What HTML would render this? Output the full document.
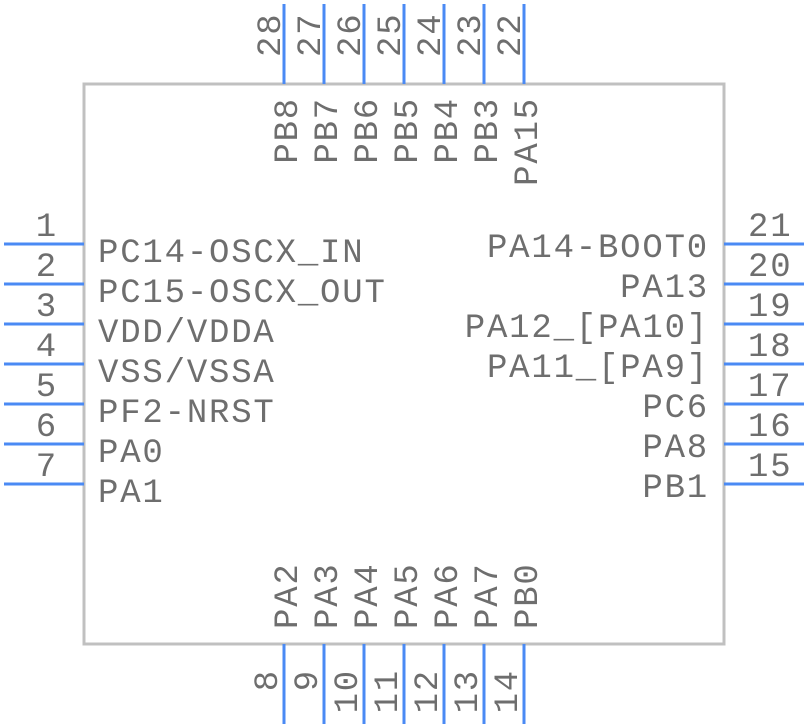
<!DOCTYPE html>
<html><head><meta charset="utf-8"><style>
html,body{margin:0;padding:0;background:#fff}
svg{display:block}
text{font-family:"Liberation Mono",monospace;font-size:34px;letter-spacing:1.8px;fill:#6e6e6e}
</style></head><body>
<svg width="808" height="728" viewBox="0 0 808 728" xmlns="http://www.w3.org/2000/svg">
<rect x="84" y="84" width="640" height="560" fill="none" stroke="#c0c0c0" stroke-width="3"/>
<g stroke="#4a8af4" stroke-width="3">
<line x1="4" y1="244" x2="84" y2="244"/><line x1="4" y1="284" x2="84" y2="284"/><line x1="4" y1="324" x2="84" y2="324"/><line x1="4" y1="364" x2="84" y2="364"/><line x1="4" y1="404" x2="84" y2="404"/><line x1="4" y1="444" x2="84" y2="444"/><line x1="4" y1="484" x2="84" y2="484"/>
<line x1="724" y1="244" x2="804" y2="244"/><line x1="724" y1="284" x2="804" y2="284"/><line x1="724" y1="324" x2="804" y2="324"/><line x1="724" y1="364" x2="804" y2="364"/><line x1="724" y1="404" x2="804" y2="404"/><line x1="724" y1="444" x2="804" y2="444"/><line x1="724" y1="484" x2="804" y2="484"/>
<line x1="284" y1="4" x2="284" y2="84"/><line x1="324" y1="4" x2="324" y2="84"/><line x1="364" y1="4" x2="364" y2="84"/><line x1="404" y1="4" x2="404" y2="84"/><line x1="444" y1="4" x2="444" y2="84"/><line x1="484" y1="4" x2="484" y2="84"/><line x1="524" y1="4" x2="524" y2="84"/>
<line x1="284" y1="644" x2="284" y2="724"/><line x1="324" y1="644" x2="324" y2="724"/><line x1="364" y1="644" x2="364" y2="724"/><line x1="404" y1="644" x2="404" y2="724"/><line x1="444" y1="644" x2="444" y2="724"/><line x1="484" y1="644" x2="484" y2="724"/><line x1="524" y1="644" x2="524" y2="724"/>
</g>
<g text-anchor="end">
<text x="58" y="236">1</text><text x="58" y="276">2</text><text x="58" y="316">3</text><text x="58" y="356">4</text><text x="58" y="396">5</text><text x="58" y="436">6</text><text x="58" y="476">7</text>
<text x="709" y="257">PA14-BOOT0</text><text x="709" y="297">PA13</text><text x="709" y="337">PA12_[PA10]</text><text x="709" y="377">PA11_[PA9]</text><text x="709" y="417">PC6</text><text x="709" y="457">PA8</text><text x="709" y="497">PB1</text>
</g>
<g>
<text x="98" y="262">PC14-OSCX_IN</text><text x="98" y="302">PC15-OSCX_OUT</text><text x="98" y="342">VDD/VDDA</text><text x="98" y="382">VSS/VSSA</text><text x="98" y="422">PF2-NRST</text><text x="98" y="462">PA0</text><text x="98" y="502">PA1</text>
<text x="748" y="236">21</text><text x="748" y="276">20</text><text x="748" y="316">19</text><text x="748" y="356">18</text><text x="748" y="396">17</text><text x="748" y="436">16</text><text x="748" y="476">15</text>
</g>
<g>
<text transform="translate(280,57) rotate(-90)">28</text><text transform="translate(320,57) rotate(-90)">27</text><text transform="translate(360,57) rotate(-90)">26</text><text transform="translate(400,57) rotate(-90)">25</text><text transform="translate(440,57) rotate(-90)">24</text><text transform="translate(480,57) rotate(-90)">23</text><text transform="translate(520,57) rotate(-90)">22</text>
<text transform="translate(297,629) rotate(-90)">PA2</text><text transform="translate(337,629) rotate(-90)">PA3</text><text transform="translate(377,629) rotate(-90)">PA4</text><text transform="translate(417,629) rotate(-90)">PA5</text><text transform="translate(457,629) rotate(-90)">PA6</text><text transform="translate(497,629) rotate(-90)">PA7</text><text transform="translate(537,629) rotate(-90)">PB0</text>
</g>
<g text-anchor="end">
<text transform="translate(297,97) rotate(-90)">PB8</text><text transform="translate(337,97) rotate(-90)">PB7</text><text transform="translate(377,97) rotate(-90)">PB6</text><text transform="translate(417,97) rotate(-90)">PB5</text><text transform="translate(457,97) rotate(-90)">PB4</text><text transform="translate(497,97) rotate(-90)">PB3</text><text transform="translate(537,97) rotate(-90)">PA15</text>
<text transform="translate(277,669) rotate(-90)">8</text><text transform="translate(317,669) rotate(-90)">9</text><text transform="translate(357,669) rotate(-90)">10</text><text transform="translate(397,669) rotate(-90)">11</text><text transform="translate(437,669) rotate(-90)">12</text><text transform="translate(477,669) rotate(-90)">13</text><text transform="translate(517,669) rotate(-90)">14</text>
</g>
</svg>
</body></html>
